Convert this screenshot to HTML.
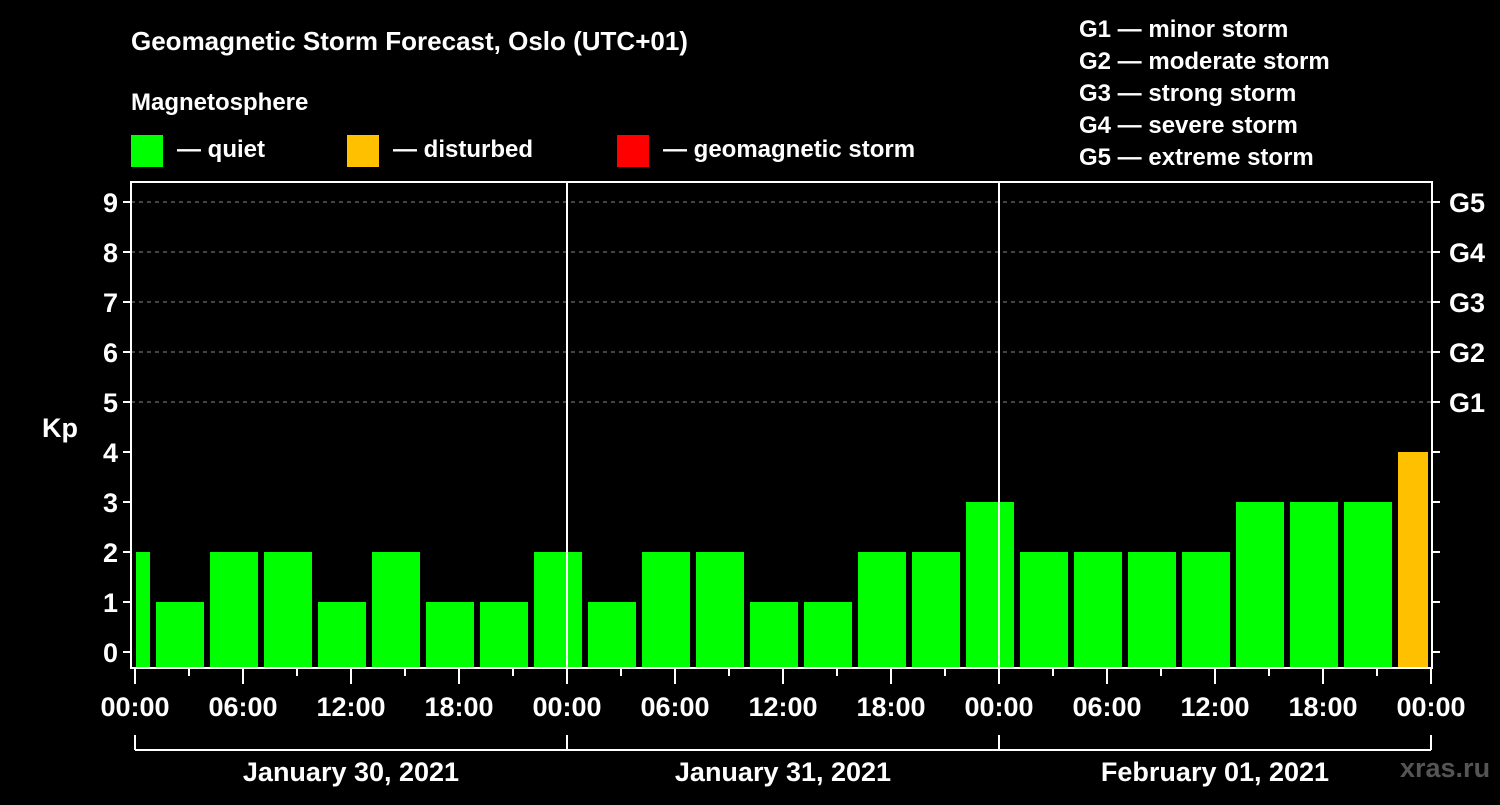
<!DOCTYPE html>
<html><head><meta charset="utf-8"><style>
body{margin:0;background:#000;width:1500px;height:800px;overflow:hidden}
svg text{font-family:"Liberation Sans",sans-serif;font-weight:bold;fill:#fff}
</style></head><body>
<svg id="c" width="1500" height="800">
<text x="131" y="50" font-size="26">Geomagnetic Storm Forecast, Oslo (UTC+01)</text>
<text x="131" y="110" font-size="24">Magnetosphere</text>
<g><rect x="131" y="135" width="32" height="32" fill="#00ff00"/><text x="177" y="157" font-size="24">— quiet</text></g>
<g><rect x="347" y="135" width="32" height="32" fill="#ffc000"/><text x="393" y="157" font-size="24">— disturbed</text></g>
<g><rect x="617" y="135" width="32" height="32" fill="#ff0000"/><text x="663" y="157" font-size="24">— geomagnetic storm</text></g>
<g font-size="24">
<text x="1079" y="37">G1 — minor storm</text>
<text x="1079" y="69">G2 — moderate storm</text>
<text x="1079" y="101">G3 — strong storm</text>
<text x="1079" y="133">G4 — severe storm</text>
<text x="1079" y="165">G5 — extreme storm</text>
</g>
<text x="42" y="437" font-size="27">Kp</text>
<text x="1400" y="777" font-size="27" fill="#555" style="fill:#555">xras.ru</text>
<g id="grid"></g><g id="bars"></g><g id="axes"></g>
</svg>
<script>
const kpValues=[2,1,2,2,1,2,1,1,2,1,2,2,1,1,2,2,3,2,2,2,2,3,3,3,4];
const yTicks=[0,1,2,3,4,5,6,7,8,9];
const gLabels=["G1","G2","G3","G4","G5"];
const xTickLabels=["00:00","06:00","12:00","18:00","00:00","06:00","12:00","18:00","00:00","06:00","12:00","18:00","00:00"];
const dayLabels=["January 30, 2021","January 31, 2021","February 01, 2021"];
const NS="http://www.w3.org/2000/svg";
const X0=135,PXH=18,L=131,R=1432,T=182,B=668;
const xs=h=>X0+h*PXH, ys=v=>652-50*v;
function mk(p,tag,at){const e=document.createElementNS(NS,tag);for(const k in at)e.setAttribute(k,at[k]);document.getElementById(p).appendChild(e);return e;}
yTicks.forEach(v=>{
 if(v>=5){const g=mk('grid','line',{x1:L,x2:R,y1:ys(v),y2:ys(v),stroke:'#888','stroke-dasharray':'4,4'});
 
 }
 const t=mk('axes','line',{x1:L-8,x2:L,y1:ys(v),y2:ys(v),stroke:'#fff','stroke-width':2});
 
 
 const t2=mk('axes','line',{x1:R,x2:R+8,y1:ys(v),y2:ys(v),stroke:'#fff','stroke-width':2});
 
 
 const lb=mk('axes','text',{x:L-13,y:ys(v)+10,'font-size':27,'text-anchor':'end'});lb.textContent=v;
 
 
});
gLabels.forEach((g,i)=>{const lb=mk('axes','text',{x:R+17,y:ys(5+i)+10,'font-size':27});lb.textContent=g;
 
 });
kpValues.forEach((v,i)=>{
 let s=xs(i*3-2)+3,e=xs(i*3+1)-3;s=Math.max(s,X0+1);e=Math.min(e,xs(72)-3);
 const r=mk('bars','rect',{x:s,y:ys(v),width:e-s,height:B-1-ys(v),fill:v>=5?'#ff0000':(v>=4?'#ffc000':'#00ff00')});
 
 
});
const fr=mk('axes','rect',{x:L,y:T,width:R-L,height:B-T,fill:'none',stroke:'#fff','stroke-width':2});


[24,48].forEach(h=>{const d=mk('axes','line',{x1:xs(h),x2:xs(h),y1:T,y2:B,stroke:'#fff','stroke-width':2});
 
 });
for(let h=0;h<=72;h+=3){const t=mk('axes','line',{x1:xs(h),x2:xs(h),y1:B,y2:B+(h%6?8:16),stroke:'#fff','stroke-width':2});
 
 }
xTickLabels.forEach((s,i)=>{const lb=mk('axes','text',{x:xs(i*6),y:716,'font-size':27,'text-anchor':'middle'});lb.textContent=s;
 
 });
const br=mk('axes','line',{x1:xs(0),x2:xs(72),y1:750,y2:750,stroke:'#fff','stroke-width':2});


[0,24,48,72].forEach(h=>{const t=mk('axes','line',{x1:xs(h),x2:xs(h),y1:735,y2:750,stroke:'#fff','stroke-width':2});
 
 });
dayLabels.forEach((s,i)=>{const lb=mk('axes','text',{x:xs(i*24+12),y:781,'font-size':27,'text-anchor':'middle'});lb.textContent=s;
 
 });
</script>
</body></html>
